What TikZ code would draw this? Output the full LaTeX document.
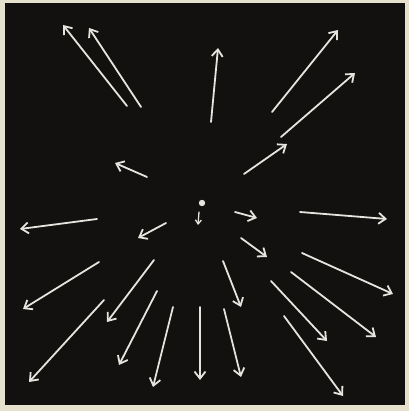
\documentclass[tikz,border=0pt]{standalone}
\usepackage{tikz}
\usetikzlibrary{arrows.meta}
\usepackage[dvipsnames,svgnames,x11names]{xcolor}

\definecolor{paper}{HTML}{E6E1CC}
\definecolor{board}{HTML}{121110}
\definecolor{chalk}{HTML}{E6E4DC}

\begin{document}
\begin{tikzpicture}[
        x=1pt, y=-1pt,
        >={Straight Barb[length=7pt, width=11pt]},
        vec/.style={
            ->,
            line width=1.8pt,
            chalk,
            line cap=round
        }
    ]

    \useasboundingbox (0,0) rectangle (409,411);

    \fill[paper] (0,0) rectangle (409,411);
    \fill[board] (5,3) rectangle (405,405);

    % source at the centre
    \fill[chalk] (202,203) circle (3.2pt);
    \draw[vec, line width=1.3pt, >={Straight Barb[length=4pt, width=6pt]}] (199,212) -- (198,225);

    % upper left
    \draw[vec] (127,106) -- (63,25);
    \draw[vec] (141,107) -- (89,28);
    \draw[vec] (147,177) -- (115,163);

    % upper right
    \draw[vec] (211,122) -- (218,48);
    \draw[vec] (272,112) -- (338,30);
    \draw[vec] (281,137) -- (355,73);
    \draw[vec] (244,174) -- (287,144);

    % left and lower left
    \draw[vec] (97,219) -- (20,229);
    \draw[vec] (166,223) -- (138,238);
    \draw[vec] (99,262) -- (23,309);
    \draw[vec] (154,260) -- (107,322);
    \draw[vec] (104,300) -- (29,382);
    \draw[vec] (157,291) -- (119,365);
    \draw[vec] (173,307) -- (153,387);
    \draw[vec] (200,307) -- (200,380);

    % right and lower right
    \draw[vec] (235,212) -- (257,218);
    \draw[vec] (300,212) -- (387,219);
    \draw[vec] (241,238) -- (267,257);
    \draw[vec] (302,253) -- (393,294);
    \draw[vec] (223,261) -- (241,307);
    \draw[vec] (291,272) -- (376,337);
    \draw[vec] (271,281) -- (327,341);
    \draw[vec] (224,309) -- (241,377);
    \draw[vec] (284,316) -- (343,396);

\end{tikzpicture}
\end{document}
